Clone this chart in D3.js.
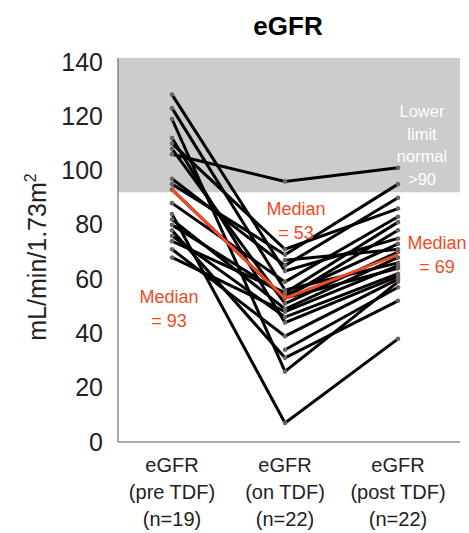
<!DOCTYPE html>
<meta charset="utf-8">
<style>
body { margin: 0; background: #fff; }
text { font-family: "Liberation Sans", Arial, sans-serif; }
.pline { fill: none; stroke: #000; stroke-width: 3px; }
.median { fill: none; stroke: #f04b23; stroke-width: 3px; }
.tick text { font-size: 25px; fill: #222; }
.xlab { font-size: 20px; fill: #222; text-anchor: middle; }
.medText { font-size: 18px; fill: #f04b23; text-anchor: middle; }
.bandText { font-size: 16.5px; fill: #fff; text-anchor: middle; }
</style>
<body>
<script src="https://cdn.jsdelivr.net/npm/d3@7"></script>
<script>
// one entry per patient, null = no value at that time point
var preVals  = [128, 123, 119, 112, 110, 108, 106, 97, 95, 93, 88, 84, 82, 80, 78, 76, 74, 71, 68, null, null, null];
var onVals   = [63, 56, 26, 44, 71, 51, 96, 65, 69, 53, 59, 7, 49, 54, 31, 46, 55, 39, 48, 67, 53, 34];
var postVals = [75, 66, 59, 61, 86, 70, 101, 90, 95, 78, 83, 38, 68, 73, 52, 62, 81, 60, 65, 71, 64, 57];

var stages = ["pre", "on", "post"];
var stageLabels = [["eGFR", "(pre TDF)", "(n=19)"], ["eGFR", "(on TDF)", "(n=22)"], ["eGFR", "(post TDF)", "(n=22)"]];
var medians = [93, 53, 69];
var normalLimit = [92, 141.5];
var yTicks = [0, 20, 40, 60, 80, 100, 120, 140];

var W = 469, H = 533;
var plotLeft = 118, plotRight = 460, plotTop = 58, plotBottom = 442;

var x = d3.scalePoint().domain(stages).range([172, 398]);
var y = d3.scaleLinear().domain([0, 140]).range([plotBottom, 62]);

var svg = d3.select("body").append("svg")
    .attr("width", W)
    .attr("height", H);

// normal range band
svg.append("rect")
    .attr("x", plotLeft)
    .attr("y", y(normalLimit[1]))
    .attr("width", plotRight - plotLeft)
    .attr("height", y(normalLimit[0]) - y(normalLimit[1]))
    .attr("fill", "#cccccc");

// title
svg.append("text")
    .attr("x", 288).attr("y", 35)
    .attr("text-anchor", "middle")
    .style("font-size", "26px")
    .style("font-weight", "bold")
    .text("eGFR");

// y axis (labels only)
var yAxis = svg.append("g")
    .attr("transform", "translate(" + plotLeft + ",0)")
    .call(d3.axisLeft(y).tickValues(yTicks).tickSize(0).tickPadding(15));
yAxis.select(".domain").remove();

svg.append("line")
    .attr("x1", plotLeft).attr("x2", plotLeft)
    .attr("y1", plotTop).attr("y2", plotBottom)
    .attr("stroke", "#555").attr("stroke-width", 1);
svg.append("line")
    .attr("x1", plotLeft).attr("x2", plotRight)
    .attr("y1", plotBottom).attr("y2", plotBottom)
    .attr("stroke", "#555").attr("stroke-width", 1);

var yl = svg.append("text")
    .attr("transform", "translate(46,257) rotate(-90)")
    .attr("text-anchor", "middle")
    .style("font-size", "25px")
    .style("fill", "#222");
yl.append("tspan").text("mL/min/1.73m");
yl.append("tspan").attr("dy", -10).style("font-size", "16px").text("2");

// x labels
stageLabels.forEach(function(lines, i) {
  lines.forEach(function(t, j) {
    svg.append("text")
        .attr("class", "xlab")
        .attr("x", x(stages[i]))
        .attr("y", 472 + j * 27)
        .text(t);
  });
});

// patient lines
var patients = preVals.map(function(d, i) {
  return [preVals[i], onVals[i], postVals[i]];
});

var line = d3.line()
    .defined(function(d) { return d != null; })
    .x(function(d, i) { return x(stages[i]); })
    .y(function(d) { return y(d); });

svg.selectAll(".pline")
    .data(patients)
    .enter().append("path")
    .attr("class", "pline")
    .attr("d", line);

// point markers
patients.forEach(function(p) {
  p.forEach(function(v, i) {
    if (v == null) return;
    svg.append("circle")
        .attr("cx", x(stages[i]))
        .attr("cy", y(v))
        .attr("r", 2.3)
        .attr("fill", "#6b635c");
  });
});

// median line
svg.append("path")
    .attr("class", "median")
    .attr("d", line(medians));

// median annotations
var medPos = [[169, 303], [296, 215], [437, 249]];
medians.forEach(function(m, i) {
  svg.append("text").attr("class", "medText")
      .attr("x", medPos[i][0]).attr("y", medPos[i][1]).text("Median");
  svg.append("text").attr("class", "medText")
      .attr("x", medPos[i][0]).attr("y", medPos[i][1] + 24).text("= " + m);
});

// band text
["Lower", "limit", "normal", ">90"].forEach(function(t, i) {
  svg.append("text").attr("class", "bandText")
      .attr("x", 422).attr("y", 117 + i * 22.5).text(t);
});
</script>
</body>
